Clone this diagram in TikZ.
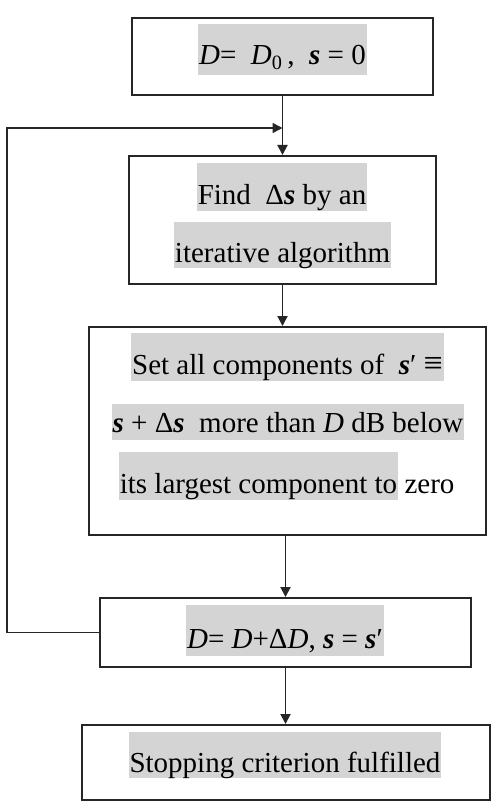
\documentclass[tikz,border=0pt]{standalone}
\usepackage{fontspec}
\setmainfont{Liberation Serif}
\usetikzlibrary{arrows.meta}
\definecolor{hlgray}{RGB}{212,212,212}
\newcommand{\bvec}[1]{\textbf{\textit{#1}}}
\begin{document}
\begin{tikzpicture}[x=1pt,y=-1pt,
	box/.style={draw=black!85,line width=2pt,rectangle,inner sep=0pt},
	hl/.style={fill=hlgray,inner xsep=1pt,inner ysep=0pt,text height=41pt,text depth=7pt},
	plain/.style={inner sep=0pt,text height=19pt,text depth=7pt},
	arr/.style={draw=black!85,line width=1.9pt,-{Triangle[length=10pt,width=10pt]}},
	font=\fontsize{29}{34}\selectfont]
	\useasboundingbox (0,0) rectangle (495,802);
	%			Khung
	\node[box,minimum width=301pt,minimum height=77pt] (init) at (282.5,56.5) {};
	\node[box,minimum width=307pt,minimum height=128pt] (find) at (282.5,220) {};
	\node[box,minimum width=397pt,minimum height=208pt] (setc) at (287.5,431) {};
	\node[box,minimum width=371pt,minimum height=69pt] (upd) at (285.5,632.5) {};
	\node[box,minimum width=408pt,minimum height=75pt] (stop) at (286,762.5) {};
	%			Chữ
	\node[hl,text depth=10pt] (init1) at (282.5,49.5) {\textit{D}=\ \ \textit{D}\textsubscript{0}\,,\ \ \bvec{s} = 0};
	\node[hl] (find1) at (282,187.5) {Find \ Δ\bvec{s} by an};
	\node[hl,text height=40pt,text depth=6pt] (find2) at (282.5,245) {iterative algorithm};
	\node[hl] (setc1) at (287.5,357) {Set all components of \ \bvec{s}′ {\fontsize{34}{34}\selectfont ≡}};
	\node[hl,text height=28pt,text depth=8pt] (setc2) at (288,422) {\bvec{s} + Δ\bvec{s} \ more than \textit{D} dB below};
	\node[hl] (setc3) at (258.5,476) {its largest component to};
	\node[plain,anchor=base west] (setc3z) at ([xshift=6pt]setc3.base east) {zero};
	\node[hl,text height=43pt,text depth=8pt] (upd1) at (285,630.5) {\textit{D}= \textit{D}+Δ\textit{D}, \bvec{s} = \bvec{s}′};
	\node[hl,text height=40pt,text depth=6pt] (stop1) at (285,755) {Stopping criterion fulfilled};
	%			Mũi tên
	\coordinate (join) at (282.5,128);
	\coordinate (loop) at (7,128);
	\draw[arr] (init.south) -- (find.north);
	\draw[arr] (find.south) -- (find.south |- setc.north);
	\draw[arr] (setc.south -| upd.north) -- (upd.north);
	\draw[arr] (upd.south) -- (upd.south |- stop.north);
	\draw[arr,line width=1.5pt] (upd.west) -| (loop) -- (join);
\end{tikzpicture}
\end{document}
